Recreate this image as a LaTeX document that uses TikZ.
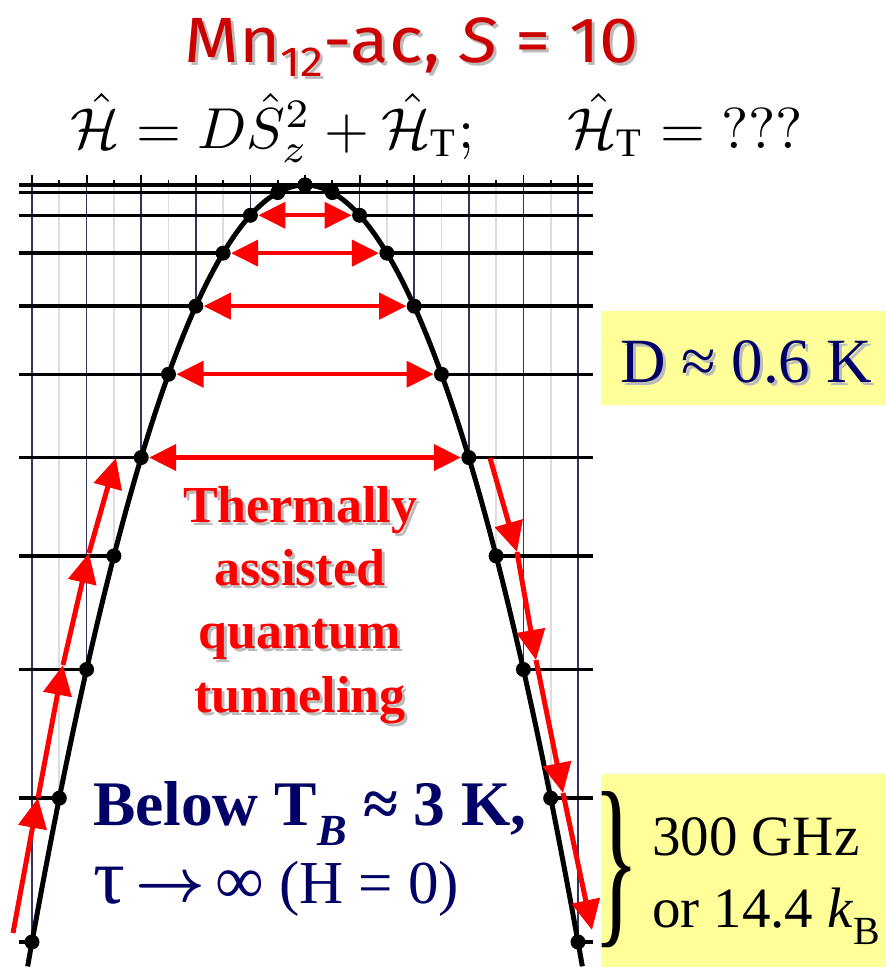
\documentclass[tikz,border=0pt]{standalone}
\usepackage{fontspec}
\usepackage{graphicx}
\setmainfont{Liberation Serif}
\newfontfamily\titlefont{Fira Sans}
\usetikzlibrary{arrows.meta}
\definecolor{myred}{HTML}{FF0000}
\definecolor{titlered}{HTML}{CC0000}
\definecolor{mynavy}{HTML}{000066}
\definecolor{boxyellow}{HTML}{FFFF99}
\definecolor{gridblue}{HTML}{33335F}
\definecolor{gridgray}{HTML}{DDDDDD}
\definecolor{shadowgray}{HTML}{BBBBBB}
\tikzset{
  levelline/.style={line width=3.5bp, black},
  curveline/.style={line width=5bp, black},
  majorgrid/.style={line width=1.5bp, gridblue},
  minorgrid/.style={line width=1.8bp, gridgray},
  tickline/.style={line width=1.8bp, black},
  harrow/.style={line width=4.2bp, myred, {Triangle[length=27bp,width=26bp]}-{Triangle[length=27bp,width=26bp]}, shorten <=8bp, shorten >=8bp},
  climb/.style={line width=5bp, myred, -{Triangle[length=30bp,width=28bp]}},
  txt/.style={inner sep=0pt, outer sep=0pt},
  yellowbox/.style={fill=boxyellow, draw=none}
}
\begin{document}
\begin{tikzpicture}[x=1bp,y=-1bp]
\useasboundingbox (0,0) rectangle (886,967);
% yellow boxes
\fill[yellowbox] (601,311) rectangle (886,405);
\fill[yellowbox] (601,774) rectangle (886,967);
% level coordinates
\foreach \m in {0,...,10}{
  \pgfmathsetmacro\dx{27.3*\m}
  \pgfmathsetmacro\yy{185+7.57*\m*\m}
  \coordinate (L\m) at ({305-\dx},\yy);
  \coordinate (R\m) at ({305+\dx},\yy);
  \coordinate (LE\m) at (19,\yy);
  \coordinate (RE\m) at (593,\yy);
  \coordinate (LT\m) at ({305-\dx},175);
  \coordinate (RT\m) at ({305+\dx},175);
  \coordinate (LS\m) at ({305-\dx},180);
  \coordinate (RS\m) at ({305+\dx},180);
}
% minor vertical grid lines
\foreach \m in {1,3,...,9}{
  \draw[minorgrid] (LS\m |- L0) -- (L\m);
  \draw[minorgrid] (RS\m |- L0) -- (R\m);
  \draw[tickline] (LS\m) -- (LS\m |- L0);
  \draw[tickline] (RS\m) -- (RS\m |- L0);
}
% major vertical grid lines
\foreach \m in {2,4,...,10}{
  \draw[majorgrid] (LT\m) -- (L\m);
  \draw[majorgrid] (RT\m) -- (R\m);
  \draw[tickline] (LT\m) -- (LT\m |- L0);
  \draw[tickline] (RT\m) -- (RT\m |- L0);
}
\draw[tickline] (LT0) -- (L0);
% level lines
\draw[levelline] (LE0) -- (RE0);
\draw[levelline] (LE1) -- (RE1);
\foreach \m in {2,...,10}{
  \draw[levelline] (LE\m) -- (L\m);
  \draw[levelline] (R\m) -- (RE\m);
}
% parabola
\draw[curveline] plot[domain=-10.16:10.16, samples=121, smooth] ({305+27.3*\x},{185+7.57*\x*\x});
% dots
\foreach \m in {0,...,10}{
  \fill (L\m) circle[radius=7.5bp];
  \fill (R\m) circle[radius=7.5bp];
}
% tunneling arrows
\foreach \m in {2,...,6}{
  \draw[harrow] (L\m) -- (R\m);
}
% climbing arrows (left)
\coordinate (CL0) at (13,933);
\coordinate (CL1) at (38,798);
\coordinate (CL2) at (63,665);
\coordinate (CL3) at (89,553);
\coordinate (CL4) at (116,458);
\draw[climb] (CL0) -- (CL1);
\draw[climb] (CL1) -- (CL2);
\draw[climb] (CL2) -- (CL3);
\draw[climb] (CL3) -- (CL4);
% descending arrows (right)
\coordinate (CR0) at (490,458);
\coordinate (CR1) at (517,552);
\coordinate (CR2) at (536,660);
\coordinate (CR3) at (563,793);
\coordinate (CR4) at (592,930);
\draw[climb] (CR0) -- (CR1);
\draw[climb] (CR1) -- (CR2);
\draw[climb] (CR2) -- (CR3);
\draw[climb] (CR3) -- (CR4);
% title
\node[txt, anchor=base, text=shadowgray, font=\titlefont\fontsize{64bp}{70bp}\selectfont] (titles) at (415,65) {\scalebox{1.1}[1]{Mn\raisebox{-0.22em}{\fontsize{42bp}{42bp}\selectfont 12}-ac, \textit{S} = 10}};
\node[txt, anchor=base, text=titlered, font=\titlefont\fontsize{64bp}{70bp}\selectfont] (title) at (412,62) {\scalebox{1.1}[1]{Mn\raisebox{-0.22em}{\fontsize{42bp}{42bp}\selectfont 12}-ac, \textit{S} = 10}};
% equation
\node[txt, anchor=base] (eq) at (437,148) {\scalebox{5.8}{$\hat{\mathcal{H}} = D\hat{S}_z^2 + \hat{\mathcal{H}}_{\mathrm{T}};\hspace{1.45em} \hat{\mathcal{H}}_{\mathrm{T}} = {?}{?}{?}$}};
% thermally assisted text
\foreach \t/\yb [count=\i] in {Thermally/522, assisted/585, quantum/648, tunneling/712}{
  \node[txt, anchor=base, text=shadowgray, font=\bfseries\fontsize{52bp}{60bp}\selectfont] (ths\i) at (303,\yb+3) {\t};
  \node[txt, anchor=base, text=myred, font=\bfseries\fontsize{52bp}{60bp}\selectfont] (th\i) at (300,\yb) {\t};
}
% below TB
\node[txt, anchor=base west, text=mynavy, font=\bfseries\fontsize{63.5bp}{66bp}\selectfont] (below) at (93,825) {Below T\textsubscript{\textit{B}} ≈ 3 K,};
\node[txt, anchor=base west, text=mynavy, font=\fontsize{61bp}{66bp}\selectfont] (tau) at (93,903) {\scalebox{1.3}{τ}\,\raisebox{0.03em}{\scalebox{6.1}{\fontsize{10bp}{12bp}\selectfont\boldmath$\rightarrow$}}\,\scalebox{1.12}{∞} (H = 0)};
% D value
\node[txt, anchor=base west, text=shadowgray, font=\fontsize{63bp}{66bp}\selectfont] (Ds) at (623,385) {D ≈ 0.6 K};
\node[txt, anchor=base west, text=mynavy, font=\fontsize{63bp}{66bp}\selectfont] (D) at (620,382) {D ≈ 0.6 K};
% brace and frequency
\node[txt] (brace) at (617,870) {\resizebox*{46bp}{156bp}{\}}};
\node[txt, anchor=base west, font=\fontsize{57bp}{60bp}\selectfont] (ghz) at (652,855) {300 GHz};
\node[txt, anchor=base west, font=\fontsize{57bp}{60bp}\selectfont] (kb) at (652,927) {or 14.4 \textit{k}\textsubscript{B}};
\end{tikzpicture}
\end{document}
